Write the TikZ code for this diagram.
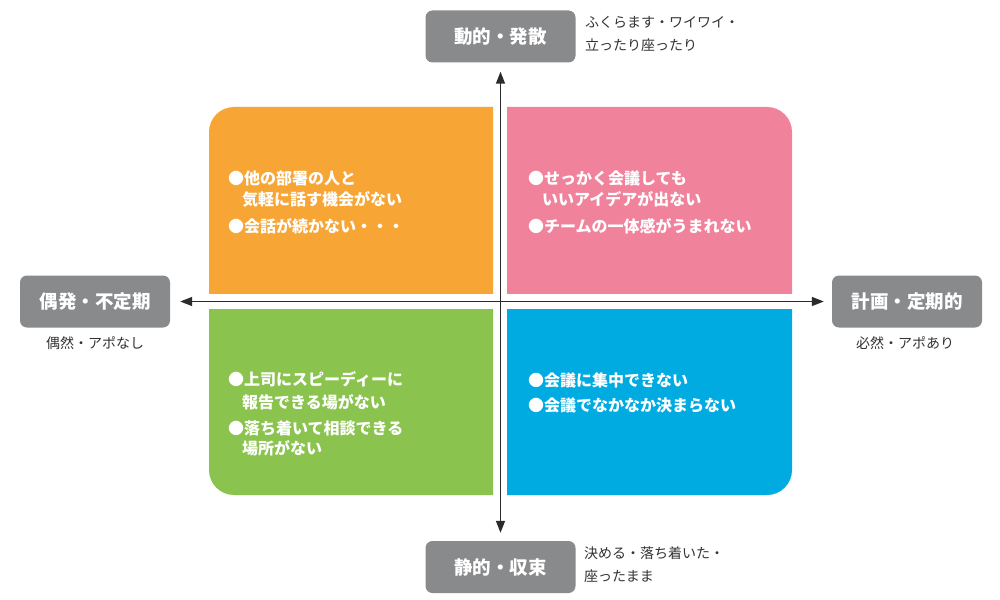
\documentclass[tikz,border=0pt]{standalone}
\usepackage{fontspec}
\newfontfamily\jp{Noto Sans CJK JP}
\usetikzlibrary{arrows.meta}
\definecolor{qorange}{HTML}{F7A535}
\definecolor{qpink}{HTML}{F0829C}
\definecolor{qgreen}{HTML}{8BC34F}
\definecolor{qblue}{HTML}{00ABE1}
\definecolor{boxgray}{HTML}{898A8C}
\definecolor{axisdark}{HTML}{2B2B2B}
\definecolor{subtext}{HTML}{333333}
\begin{document}
\begin{tikzpicture}[x=1pt,y=-1pt,
  labelbox/.style={fill=boxgray,rounded corners=7pt,minimum width=150pt,minimum height=52pt,
    text=white,font=\jp\bfseries\fontsize{18.5}{20}\selectfont,inner sep=0pt},
  subnote/.style={text=subtext,font=\jp\fontsize{14}{23}\selectfont,inner sep=0pt,align=left},
  qtext/.style={text=white,font=\jp\bfseries\fontsize{16}{18}\selectfont,inner sep=0pt,anchor=base west},
  axisline/.style={draw=axisdark,line width=1.4pt,{Triangle[length=12pt,width=9pt]}-{Triangle[length=12pt,width=9pt]}}
]
\useasboundingbox (0,0) rectangle (1000,599);
\fill[white] (0,0) rectangle (1000,599);

% quadrants
\begin{scope}
  \clip (209,107) rectangle (493,293);
  \fill[qorange,rounded corners=25pt] (209,107) rectangle (530,330);
\end{scope}
\begin{scope}
  \clip (507,107) rectangle (792,293);
  \fill[qpink,rounded corners=25pt] (470,107) rectangle (792,330);
\end{scope}
\begin{scope}
  \clip (209,309) rectangle (493,495);
  \fill[qgreen,rounded corners=25pt] (209,270) rectangle (530,495);
\end{scope}
\begin{scope}
  \clip (507,309) rectangle (792,495);
  \fill[qblue,rounded corners=25pt] (470,270) rectangle (792,495);
\end{scope}

% axis label boxes
\node[labelbox] (T) at (500.5,36.5) {動的・発散};
\node[labelbox] (B) at (500.5,567) {静的・収束};
\node[labelbox] (L) at (95,301.5) {偶発・不定期};
\node[labelbox] (R) at (907,301.5) {計画・定期的};

% axes
\draw[axisline,shorten <=9pt,shorten >=8pt] (T.south) -- (B.north);
\draw[axisline,shorten <=10pt,shorten >=8pt] (L.east) -- (R.west);

% side notes
\node[subnote,anchor=base west] (Tn1) at (585,27.5) {ふくらます・ワイワイ・};
\node[subnote,anchor=base west] (Tn2) at (585,50.5) {立ったり座ったり};
\node[subnote,anchor=base west] (Bn1) at (584,558) {決める・落ち着いた・};
\node[subnote,anchor=base west] (Bn2) at (584,581) {座ったまま};
\node[subnote,anchor=base] (Ln) at (95,348) {偶然・アポなし};
\node[subnote,anchor=base] (Rn) at (905,348) {必然・アポあり};

% orange text
\node[qtext] (o1) at (228,184) {●他の部署の人と};
\node[qtext] (o2) at (242,205) {気軽に話す機会がない};
\node[qtext] (o3) at (228,232) {●会話が続かない・・・};
% pink text
\node[qtext] (p1) at (528,184) {●せっかく会議しても};
\node[qtext] (p2) at (542,205) {いいアイデアが出ない};
\node[qtext] (p3) at (528,232) {●チームの一体感がうまれない};
% green text
\node[qtext] (g1) at (228,385) {●上司にスピーディーに};
\node[qtext] (g2) at (242,408) {報告できる場がない};
\node[qtext] (g3) at (228,434) {●落ち着いて相談できる};
\node[qtext] (g4) at (242,454) {場所がない};
% blue text
\node[qtext] (b1) at (528,386) {●会議に集中できない};
\node[qtext] (b2) at (528,411) {●会議でなかなか決まらない};
\end{tikzpicture}
\end{document}
